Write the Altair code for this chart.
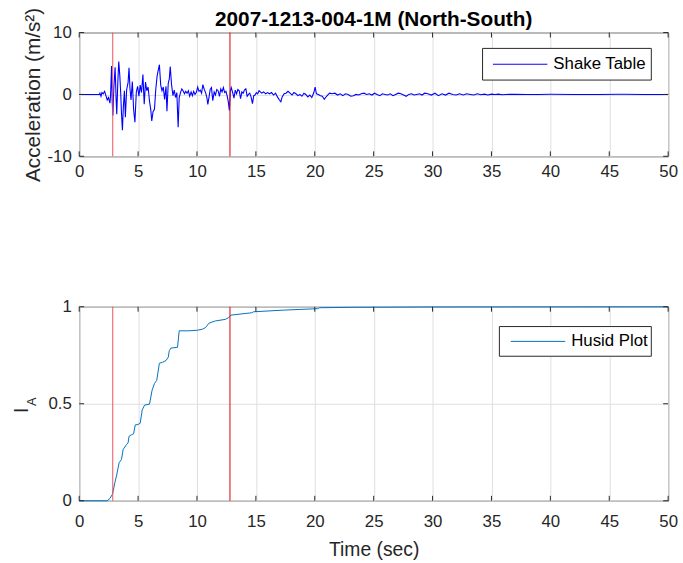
import altair as alt
import pandas as pd

CHART_TITLE = "2007-1213-004-1M (North-South)"
FONT = "Liberation Sans"
INK = "#262626"

# Shake-table acceleration record: (time s, acceleration m/s^2)
pre_event = [(0.0, 0.0), (1.71, 0.0), (1.76, 0.2), (1.85, -0.3), (1.93, 0.3), (2.04, 0.1),
             (2.16, 0.5), (2.27, -0.2), (2.38, -0.9), (2.49, -0.5), (2.61, -1.4), (2.66, -0.3)]
strong_motion = [(2.75, 4.6), (2.80, -1.0), (2.86, -3.4), (2.94, 1.0), (3.05, 4.4), (3.14, -1.0),
                 (3.19, -3.2), (3.28, 2.0), (3.36, 5.3), (3.45, 3.0), (3.53, 0.0), (3.59, -3.0),
                 (3.67, -5.8), (3.75, -2.0), (3.84, 0.6), (3.92, -3.7), (4.03, 0.8), (4.15, 1.9),
                 (4.23, 4.3), (4.31, 1.0), (4.40, -0.9), (4.51, 2.1), (4.62, -2.4), (4.73, -4.5),
                 (4.85, 0.4), (4.96, 1.3), (5.07, -0.3), (5.18, 1.5), (5.29, 0.3), (5.41, 3.2),
                 (5.52, -1.6), (5.63, 2.0), (5.74, 0.6), (5.85, 1.2), (5.97, -1.1), (6.08, -2.5),
                 (6.16, -4.3), (6.27, -2.8), (6.39, -2.4), (6.50, 0.8), (6.61, 2.9), (6.72, 4.0),
                 (6.81, 4.8), (6.92, 1.5), (7.03, 0.6), (7.14, 1.2), (7.25, -0.8), (7.37, 1.3),
                 (7.45, -2.7), (7.56, 1.8), (7.65, 2.5), (7.73, 4.5), (7.84, 1.6), (7.96, -0.2),
                 (8.07, 0.7), (8.18, -0.5), (8.29, 0.3), (8.40, -5.3), (8.49, -0.5)]
late_motion = [(8.60, 0.3), (8.71, 0.9), (8.82, 0.6), (8.94, 0.1), (9.05, 0.5), (9.16, 0.2),
               (9.27, 0.6), (9.38, -0.3), (9.50, 0.4), (9.61, -0.2), (9.72, 0.5), (9.83, 0.0),
               (9.94, 0.3), (10.06, 1.2), (10.17, 0.5), (10.28, 0.7), (10.39, 0.2), (10.50, 1.6),
               (10.62, 0.8), (10.73, 0.3), (10.84, -0.5), (10.92, -1.6), (11.01, -0.6), (11.12, 0.8),
               (11.23, 1.1), (11.34, -1.0), (11.46, 0.4), (11.57, -0.1), (11.68, 0.8), (11.79, 0.6),
               (11.91, -0.3), (12.02, 0.9), (12.13, 0.4), (12.24, 1.1), (12.35, 0.3), (12.46, 0.5),
               (12.58, -0.4), (12.66, -1.2), (12.75, -2.6), (12.83, 0.5), (12.91, 1.1), (13.03, 0.3),
               (13.14, -0.6), (13.25, 0.7), (13.36, 0.1), (13.47, 0.8), (13.59, 0.6), (13.70, -0.7),
               (13.81, 0.4), (13.92, 0.2), (14.03, 0.7), (14.15, 0.9), (14.26, -0.3), (14.37, 0.0),
               (14.48, 0.2), (14.59, -0.4), (14.71, -1.5), (14.82, -0.2), (14.93, -0.1), (15.04, 0.3),
               (15.15, 0.1), (15.27, 0.6), (15.38, 0.4), (15.49, 0.2), (15.66, 0.4), (15.83, 0.1),
               (15.99, 0.3)]
coda = [(16.16, 0.1), (16.33, 0.3), (16.50, -0.1), (16.67, 0.2), (16.83, -0.4), (17.00, -0.9),
        (17.12, -1.2), (17.23, -0.4), (17.40, 0.1), (17.56, 0.2), (17.73, 0.5), (17.90, 0.2),
        (18.07, -0.1), (18.23, 0.3), (18.40, 0.1), (18.57, -0.2), (18.74, 0.0), (18.91, -0.3),
        (19.08, 0.2), (19.24, 0.0), (19.41, -0.4), (19.58, -0.1), (19.75, -0.5), (19.92, 0.3),
        (20.03, 1.2), (20.14, 0.1), (20.31, 0.0), (20.48, -0.2), (20.64, -0.3), (20.81, -0.8),
        (20.92, -0.5), (21.09, -0.1), (21.26, 0.2), (21.48, 0.1), (21.71, 0.2), (21.93, -0.1),
        (22.16, 0.1), (22.38, -0.2), (22.61, 0.1), (22.83, 0.0), (23.06, -0.3), (23.28, -0.2),
        (23.50, 0.0), (23.73, -0.1), (23.95, 0.1), (24.18, 0.2), (24.40, 0.0), (24.62, 0.1),
        (24.85, -0.1), (25.07, 0.2), (25.29, 0.0), (25.52, -0.2), (25.74, 0.1), (25.97, 0.0),
        (26.19, -0.1), (26.41, 0.1), (26.64, -0.2), (26.86, 0.0), (27.09, 0.2), (27.31, 0.1),
        (27.54, -0.1), (27.76, -0.3), (27.98, 0.0), (28.21, 0.1), (28.43, -0.1), (28.66, 0.0),
        (28.88, 0.1), (29.10, -0.1), (29.33, 0.2)]
tail = [(29.6, 0.1), (29.9, -0.1), (30.2, 0.2), (30.5, -0.2), (30.8, 0.1), (31.1, -0.1),
        (31.4, 0.2), (31.7, 0.0), (32.0, -0.1), (32.3, 0.1), (32.6, -0.1), (32.9, 0.1),
        (33.2, 0.0), (33.5, -0.1), (33.8, 0.1), (34.1, -0.05), (34.4, 0.05), (34.7, -0.1),
        (35.0, 0.05), (35.3, 0.0), (35.6, 0.05), (35.9, -0.05), (36.2, 0.0), (37.0, 0.02),
        (38.0, -0.02), (39.0, 0.0), (40.0, 0.02), (42.0, -0.02), (44.0, 0.0), (46.0, 0.02),
        (48.0, -0.02), (50.0, 0.0)]

# Normalised Arias intensity (Husid plot): (time s, I_A)
husid = [(0.0, 0.0), (2.38, 0.0), (2.61, 0.012), (2.83, 0.034), (3.03, 0.094), (3.17, 0.128),
         (3.39, 0.196), (3.59, 0.213), (3.73, 0.264), (4.01, 0.289), (4.15, 0.298), (4.23, 0.332),
         (4.43, 0.340), (4.62, 0.345), (4.76, 0.391), (4.99, 0.393), (5.18, 0.400), (5.35, 0.468),
         (5.55, 0.493), (5.97, 0.498), (6.19, 0.570), (6.39, 0.604), (6.58, 0.620), (6.81, 0.709),
         (7.09, 0.714), (7.37, 0.723), (7.56, 0.740), (7.65, 0.774), (7.79, 0.787), (8.35, 0.791),
         (8.49, 0.876), (9.33, 0.876), (10.03, 0.879), (10.45, 0.884), (10.73, 0.893), (11.01, 0.915),
         (11.57, 0.927), (12.41, 0.935), (12.69, 0.944), (12.89, 0.957), (14.65, 0.969), (14.80, 0.974),
         (17.45, 0.983), (20.25, 0.990), (20.40, 0.995), (23.0, 0.997), (30.0, 0.999), (50.0, 1.0)]

# 5 %-95 % significant-duration bounds
bound_t = [2.85, 12.8]
bound_color = ["#f0505a", "#e00000"]

x_ticks = [0, 5, 10, 15, 20, 25, 30, 35, 40, 45, 50]
accel_ticks = [-10, 0, 10]
husid_ticks = [0, 0.5, 1]
legend_labels = ["Shake Table", "Husid Plot"]

W = 595
H_TOP = 125
H_BOT = 196
TICK = 5
LABEL_SIZE = 17
TITLE_SIZE = 19.5

accel = pd.DataFrame(pre_event + strong_motion + late_motion + coda + tail, columns=["t", "a"])
arias = pd.DataFrame(husid, columns=["t", "v"])
bounds = pd.DataFrame({"t": bound_t, "c": bound_color})
xt = pd.DataFrame({"t": x_ticks})


def x_channel(title, label_pad):
    return alt.X(
        "t:Q",
        scale=alt.Scale(domain=[0, 50], nice=False, zero=False),
        axis=alt.Axis(values=x_ticks, title=title, grid=True, labelFlush=False,
                      labelPadding=label_pad, titlePadding=11, labelExpr="'' + datum.value"),
    )


def inward_ticks(x_enc, y_enc, ydata, height):
    """Tick marks drawn inside the box on all four sides."""
    bottom = alt.Chart(xt).mark_rule(color=INK, strokeWidth=1).encode(
        x=x_enc, y=alt.value(height), y2=alt.value(height - TICK))
    top = alt.Chart(xt).mark_rule(color=INK, strokeWidth=1).encode(
        x=x_enc, y=alt.value(0), y2=alt.value(TICK))
    left = alt.Chart(ydata).mark_rule(color=INK, strokeWidth=1).encode(
        y=y_enc, x=alt.value(0), x2=alt.value(TICK))
    right = alt.Chart(ydata).mark_rule(color=INK, strokeWidth=1).encode(
        y=y_enc, x=alt.value(W - TICK), x2=alt.value(W))
    return [bottom, top, left, right]


def legend_box(label, color, x0, y0, y1, line_x0, line_x1, text_x):
    df = pd.DataFrame({"label": [label]})
    yc = (y0 + y1) / 2
    box = alt.Chart(df).mark_rect(fill="white", stroke=INK, strokeWidth=1).encode(
        x=alt.value(x0), x2=alt.value(578), y=alt.value(y0), y2=alt.value(y1))
    sample = alt.Chart(df).mark_rule(color=color, strokeWidth=1).encode(
        x=alt.value(line_x0), x2=alt.value(line_x1), y=alt.value(yc))
    text = alt.Chart(df).mark_text(align="left", baseline="middle", font=FONT,
                                   fontSize=LABEL_SIZE, color="black").encode(
        x=alt.value(text_x), y=alt.value(yc), text="label:N")
    return [box, sample, text]


# ---- acceleration time history ----
x_top = x_channel(None, 7)
y_top = alt.Y(
    "a:Q",
    scale=alt.Scale(domain=[-10, 10], nice=False),
    axis=alt.Axis(values=accel_ticks, title="Acceleration (m/s²)", grid=True,
                  labelFlush=False, labelPadding=8, titlePadding=4, titleFontSize=21,
                  labelExpr="'' + datum.value"),
)
accel_line = alt.Chart(accel).mark_line(color="#0000ff", strokeWidth=1.1).encode(x=x_top, y=y_top)
top_bounds = alt.Chart(bounds).mark_rule(strokeWidth=1).encode(
    x=x_top, color=alt.Color("c:N", scale=None))
heading = alt.Chart(pd.DataFrame({"title": [CHART_TITLE]})).mark_text(
    font=FONT, fontSize=21, fontWeight="bold", color="black", align="center", baseline="alphabetic"
).encode(x=alt.value(W / 2), y=alt.value(-7), text="title:N")
top = alt.layer(
    accel_line, top_bounds,
    *inward_ticks(x_top, y_top, pd.DataFrame({"a": accel_ticks}), H_TOP),
    *legend_box(legend_labels[0], "#0000ff", 407.5, 16, 48, 418, 473, 479),
    heading,
).properties(width=W, height=H_TOP)

# ---- Husid plot ----
x_bot = x_channel("Time (sec)", 13.5)
y_bot = alt.Y(
    "v:Q",
    scale=alt.Scale(domain=[0, 1], nice=False),
    axis=alt.Axis(values=husid_ticks, title="I", grid=True, labelFlush=False, labelPadding=8,
                  titleX=-52, titleY=104, titleAngle=270, titleBaseline="alphabetic",
                  titleAlign="center", labelExpr="'' + datum.value"),
)
husid_line = alt.Chart(arias).mark_line(color="#0072bd", strokeWidth=1).encode(x=x_bot, y=y_bot)
bot_bounds = alt.Chart(bounds).mark_rule(strokeWidth=1).encode(
    x=x_bot, color=alt.Color("c:N", scale=None))
subscript = alt.Chart(pd.DataFrame({"s": ["A"]})).mark_text(
    angle=270, align="center", baseline="alphabetic", font=FONT, fontSize=13, color=INK
).encode(x=alt.value(-44), y=alt.value(96), text="s:N")
bottom = alt.layer(
    husid_line, bot_bounds, subscript,
    *inward_ticks(x_bot, y_bot, pd.DataFrame({"v": husid_ticks}), H_BOT),
    *legend_box(legend_labels[1], "#0072bd", 424.5, 20, 50, 436, 491, 497),
).properties(width=W, height=H_BOT)

chart = alt.vconcat(top, bottom, spacing=152, bounds="flush").properties(
    padding={"left": 11, "top": 3, "right": 5, "bottom": 2},
    background="white",
).configure_view(
    stroke=INK, strokeWidth=1
).configure_axis(
    domain=False, ticks=False, tickSize=0,
    labelFont=FONT, labelFontSize=LABEL_SIZE, labelColor=INK,
    titleFont=FONT, titleFontSize=TITLE_SIZE, titleColor=INK, titleFontWeight="normal",
    gridColor="#dfdfdf", gridWidth=1,
)

chart.save("out.html", embed_options={"renderer": "svg", "actions": False})
